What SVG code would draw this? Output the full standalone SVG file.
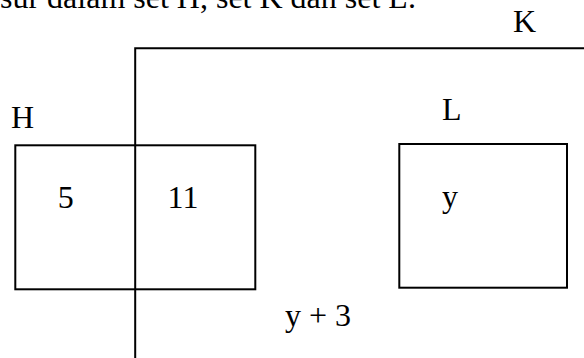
<svg xmlns="http://www.w3.org/2000/svg" width="584" height="358" viewBox="0 0 584 358">
<style>
.t{font-family:"Liberation Serif","Times New Roman",serif;font-size:32px;fill:#000}
.s{fill:none;stroke:#000;stroke-width:2}
</style>
<rect width="584" height="358" fill="#fff"/>
<text class="t" x="0" y="8">sur dalam set H, set K dan set L.</text>
<g id="setK">
<path class="s" d="M135.2,358 V48.3 H584"/>
<text class="t" x="513" y="32">K</text>
</g>
<g id="setH">
<rect class="s" x="15.3" y="145.3" width="240" height="144"/>
<text class="t" x="11" y="128">H</text>
</g>
<g id="setL">
<rect class="s" x="399.3" y="144" width="167.7" height="143.7"/>
<text class="t" x="442" y="120">L</text>
</g>
<g id="labels">
<text class="t" x="65.7" y="208" text-anchor="middle">5</text>
<text class="t" x="183" y="208" text-anchor="middle">11</text>
<text class="t" x="450" y="207" text-anchor="middle">y</text>
<text class="t" x="285" y="326">y + 3</text>
</g>
</svg>
